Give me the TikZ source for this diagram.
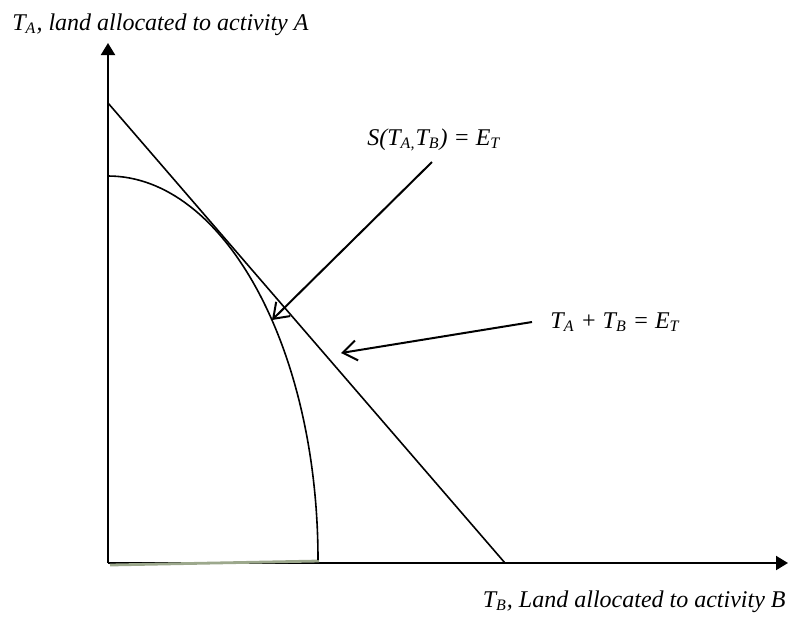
\documentclass[tikz,border=0pt]{standalone}
\usepackage{fontspec}
\setmainfont{Liberation Serif}
\usetikzlibrary{arrows.meta}
\definecolor{cInk}{HTML}{000000}
\definecolor{cShade}{HTML}{9CA88C}
\newcommand{\sbs}[1]{\textsubscript{#1}}
\tikzset{
  axis/.style={-{Triangle[length=6pt,width=7pt]},line width=1pt,draw=cInk},
  curve/.style={line width=0.8pt,draw=cInk},
  pointer/.style={-{Straight Barb[length=7pt,width=10pt]},line width=1pt,draw=cInk},
  lab/.style={font=\fontsize{12}{14}\selectfont\itshape,inner sep=0pt}
}
\begin{document}
\begin{tikzpicture}[x=0.5pt,y=-0.5pt]
  \useasboundingbox (0,0) rectangle (788,617);

  % Axes.
  \coordinate (origin) at (108,563);
  \coordinate (ytip) at (108,43);
  \coordinate (xtip) at (788,563);
  \draw[axis] (origin) -- (ytip);
  \draw[axis] (origin) -- (xtip);

  % Budget line and production frontier.
  \coordinate (lineTop) at (108,103);
  \coordinate (lineEnd) at (505,563);
  \draw[curve] (lineTop) -- (lineEnd);
  \coordinate (arcTop) at (108,176);
  \coordinate (arcEnd) at (318,560);
  \draw[cShade,line width=1.4pt] (110,565) -- (319,561);
  \draw[curve] (arcTop) arc[start angle=90,end angle=0,x radius=210,y radius=-384];

  % Labels.
  \node[lab,anchor=base west] (labA) at (12,30)
    {T\sbs{A}, land allocated to activity A};
  \node[lab,anchor=base east] (labB) at (786,607)
    {T\sbs{B}, Land allocated to activity B};
  \node[lab,anchor=base west] (labS) at (367,145)
    {S(T\sbs{A,}T\sbs{B}) = E\sbs{T}};
  \node[lab,anchor=base west] (labSum) at (550,328)
    {T\sbs{A} + T\sbs{B} = E\sbs{T}};

  % Pointers.
  \coordinate (sTail) at (432,162);
  \coordinate (sTip) at (272,320);
  \coordinate (sumTail) at (532,322);
  \coordinate (sumTip) at (341,353);
  \draw[pointer] (sTail) -- (sTip);
  \draw[pointer] (sumTail) -- (sumTip);
\end{tikzpicture}
\end{document}
